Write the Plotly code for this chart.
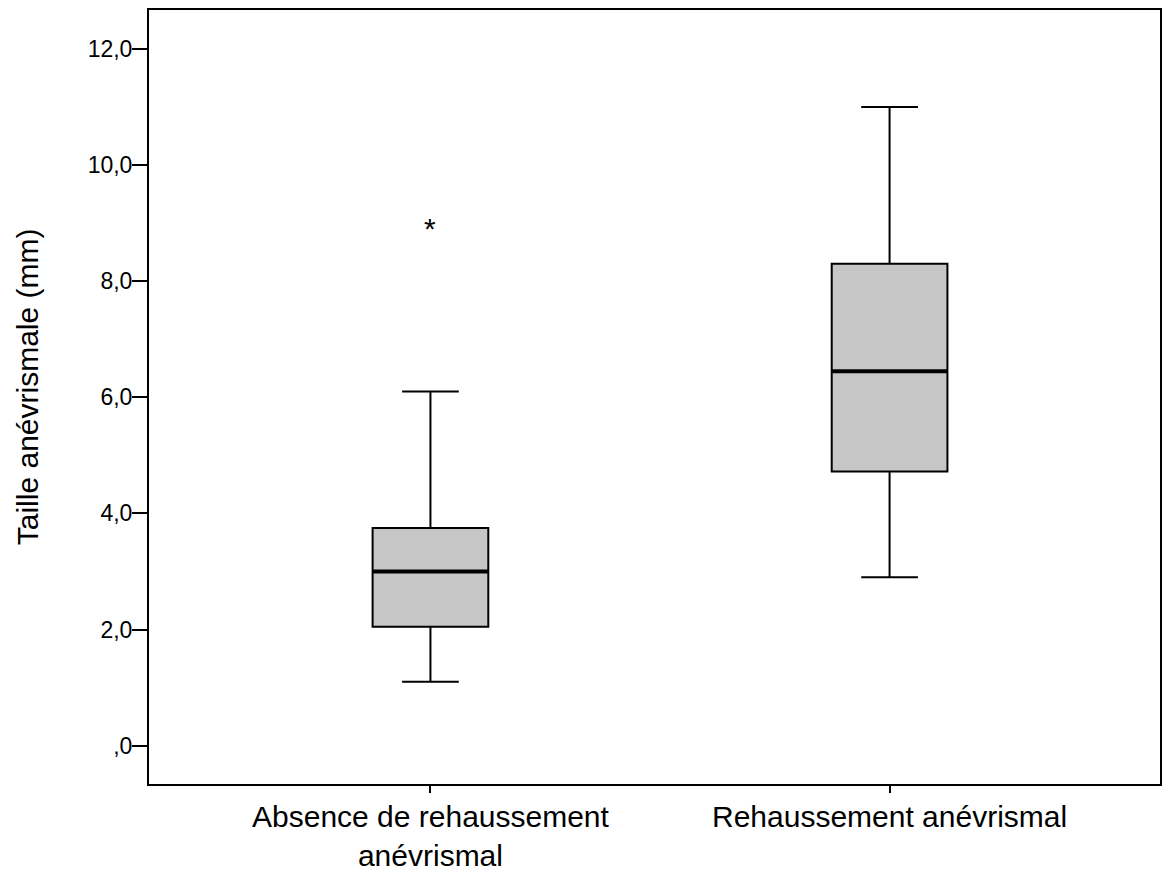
import plotly.graph_objects as go

categories = ["Absence de rehaussement<br>anévrismal", "Rehaussement anévrismal"]
lower_whisker = [1.1, 2.9]
q1_values = [2.05, 4.72]
medians = [3.0, 6.45]
q3_values = [3.75, 8.3]
upper_whisker = [6.1, 11.0]
outlier_cat = [categories[0]]
outlier_val = [9.0]

y_tickvals = [0, 2, 4, 6, 8, 10, 12]
y_ticktext = [",0", "2,0", "4,0", "6,0", "8,0", "10,0", "12,0"]
y_title = "Taille anévrismale (mm)"

FONT = "Liberation Sans, Arial, sans-serif"

fig = go.Figure()
fig.add_trace(go.Box(
    x=categories,
    q1=q1_values,
    median=medians,
    q3=q3_values,
    lowerfence=lower_whisker,
    upperfence=upper_whisker,
    width=0.252,
    whiskerwidth=0.49,
    fillcolor="#c6c6c6",
    line=dict(color="#000000", width=2),
    boxpoints=False,
    hoverinfo="skip",
    showlegend=False,
))
# thicker median line: degenerate box at the median values
fig.add_trace(go.Box(
    x=categories,
    q1=medians,
    median=medians,
    q3=medians,
    lowerfence=medians,
    upperfence=medians,
    width=0.252,
    whiskerwidth=0.49,
    fillcolor="rgba(0,0,0,0)",
    line=dict(color="#000000", width=4),
    boxpoints=False,
    hoverinfo="skip",
    showlegend=False,
))

annotations = [dict(
    text=y_title,
    xref="paper", yref="paper",
    x=-0.1194, y=0.513,
    xanchor="center", yanchor="middle",
    textangle=-90,
    showarrow=False,
    font=dict(family=FONT, size=30, color="#000000"),
)]
for cat, val in zip(outlier_cat, outlier_val):
    annotations.append(dict(
        text="*",
        xref="x", yref="y",
        x=cat, y=val,
        xanchor="center", yanchor="middle",
        yshift=-5,
        showarrow=False,
        font=dict(family=FONT, size=30, color="#000000"),
    ))

fig.update_layout(
    width=1166,
    height=895,
    margin=dict(l=149, r=4, t=10, b=111),
    plot_bgcolor="#ffffff",
    paper_bgcolor="#ffffff",
    font=dict(family=FONT, color="#000000"),
    showlegend=False,
    boxmode="overlay",
    annotations=annotations,
)
fig.update_xaxes(
    type="category",
    categoryorder="array",
    categoryarray=categories,
    range=[-0.613, 1.589],
    showline=True,
    linecolor="#000000",
    linewidth=2,
    mirror=True,
    ticks="outside",
    ticklen=7,
    tickwidth=1.5,
    tickcolor="#000000",
    tickfont=dict(family=FONT, size=30, color="#000000"),
    ticklabelstandoff=-2,
    showgrid=False,
    zeroline=False,
)
fig.update_yaxes(
    range=[-0.66, 12.67],
    tickvals=y_tickvals,
    ticktext=y_ticktext,
    showline=True,
    linecolor="#000000",
    linewidth=2,
    mirror=True,
    ticks="outside",
    ticklen=15,
    tickwidth=2,
    tickcolor="#000000",
    tickfont=dict(family=FONT, size=23, color="#000000"),
    ticklabelstandoff=-5,
    showgrid=False,
    zeroline=False,
)

fig.write_html(
    "out.html",
    config={"displayModeBar": False},
    post_script="document.body.style.margin='0';",
)
